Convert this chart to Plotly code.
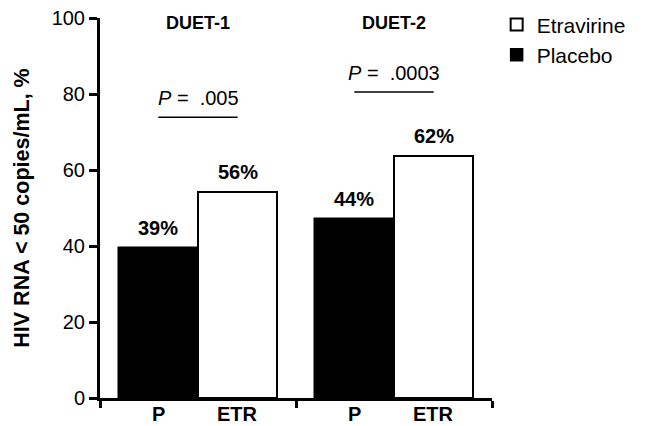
import plotly.graph_objects as go

groups = ["DUET-1", "DUET-2"]
arm_ticks = ["P", "ETR"]
placebo_vals = [39.6, 47.0]
etravirine_vals = [54.1, 63.7]
placebo_labels = ["39%", "44%"]
etravirine_labels = ["56%", "62%"]
p_values = [".005", ".0003"]
p_line_y = [73.9, 80.5]
y_ticks = [0, 20, 40, 60, 80, 100]

FONT = "Liberation Sans, Arial, sans-serif"
group_x = [i + 0.5 for i in range(len(groups))]
bw = 0.405
pl_x = [g - bw / 2 for g in group_x]
et_x = [g + bw / 2 for g in group_x]

fig = go.Figure()
fig.add_trace(go.Bar(
    x=et_x, y=etravirine_vals, width=bw, name="Etravirine",
    marker=dict(color="white", line=dict(color="black", width=2)),
))
fig.add_trace(go.Bar(
    x=pl_x, y=placebo_vals, width=bw, name="Placebo",
    marker=dict(color="black", line=dict(color="black", width=1.5)),
))

ann = []
for xs, vals, labs in [(pl_x, placebo_vals, placebo_labels), (et_x, etravirine_vals, etravirine_labels)]:
    for x, v, t in zip(xs, vals, labs):
        ann.append(dict(x=x, y=v, text=f"<b>{t}</b>", showarrow=False, xref="x", yref="y",
                        yanchor="bottom", yshift=7, font=dict(size=20, color="black", family=FONT)))
for g, xp, xe in zip(group_x, pl_x, et_x):
    ann.append(dict(x=xp, y=0, text=f"<b>{arm_ticks[0]}</b>", showarrow=False, yref="y",
                    yanchor="top", yshift=-3, font=dict(size=20, color="black", family=FONT)))
    ann.append(dict(x=xe, y=0, text=f"<b>{arm_ticks[1]}</b>", showarrow=False, yref="y",
                    yanchor="top", yshift=-3, font=dict(size=20, color="black", family=FONT)))
for g, name in zip(group_x, groups):
    ann.append(dict(x=g, y=100, text=f"<b>{name}</b>", showarrow=False, yref="y",
                    yanchor="middle", yshift=-5, font=dict(size=18, color="black", family=FONT)))

shapes = []
for g, xp, xe, pv, ly in zip(group_x, pl_x, et_x, p_values, p_line_y):
    shapes.append(dict(type="line", x0=xp, x1=xe, y0=ly, y1=ly, xref="x", yref="y",
                       line=dict(color="black", width=1.5)))
    ann.append(dict(x=g, y=ly, text=f"<i>P</i> =  {pv}", showarrow=False, yref="y",
                    yanchor="bottom", yshift=6, font=dict(size=20, color="black", family=FONT)))

fig.update_layout(
    width=645, height=426,
    margin=dict(l=100, r=153, t=18, b=28, autoexpand=False),
    plot_bgcolor="white", paper_bgcolor="white",
    barmode="overlay", bargap=0,
    showlegend=True,
    legend=dict(x=0.77, y=0.99, xref="container", yref="container",
                xanchor="left", yanchor="top", traceorder="normal",
                font=dict(size=21, color="black", family=FONT),
                bgcolor="rgba(0,0,0,0)"),
    annotations=ann, shapes=shapes,
    font=dict(family=FONT, color="black"),
)
fig.update_xaxes(range=[0, len(groups)], tickvals=list(range(len(groups) + 1)), showticklabels=False,
                 ticks="outside", ticklen=7, tickwidth=3, tickcolor="black",
                 showline=True, linewidth=3, linecolor="black", showgrid=False, zeroline=False)
fig.update_yaxes(range=[0, 100], tickvals=y_ticks, ticks="outside", ticklen=8, tickwidth=3,
                 tickcolor="black", showline=True, linewidth=3, linecolor="black",
                 showgrid=False, zeroline=False, tickfont=dict(size=20, color="black", family=FONT),
                 title=dict(text="<b>HIV RNA < 50 copies/mL, %</b>", font=dict(size=21.5, family=FONT),
                            standoff=17))
fig.update_traces(cliponaxis=False)

fig.write_html("out.html", config={"displayModeBar": False},
               post_script="document.body.style.margin='0';")
